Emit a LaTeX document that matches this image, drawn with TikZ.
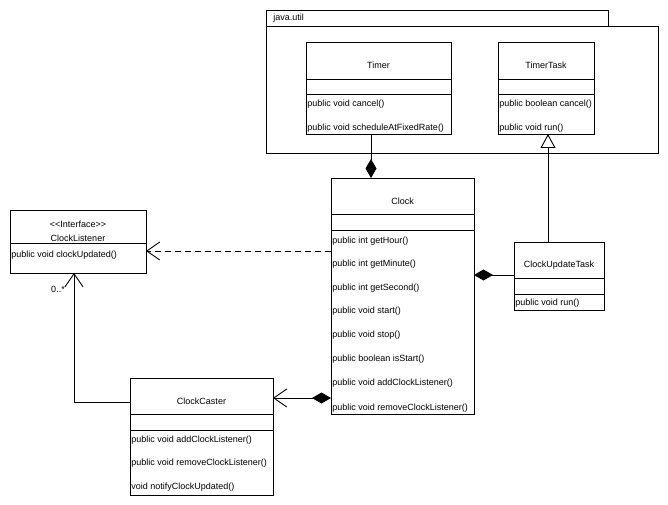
\documentclass[tikz,border=0pt]{standalone}
\usepackage{fontspec}
\setmainfont{Liberation Sans}
\usetikzlibrary{arrows.meta}
\begin{document}
\begin{tikzpicture}[x=1pt,y=-1pt,line width=0.9pt,
  box/.style={draw,anchor=north west,inner sep=0pt,outer sep=0pt},
  title/.style={anchor=center,inner sep=0pt,font=\fontsize{9}{10}\selectfont},
  meth/.style={anchor=west,inner sep=0pt,font=\fontsize{9}{10}\selectfont},
  comp/.style={{Diamond[length=19pt,width=11pt]}-},
  openarr/.style={-{Straight Barb[length=13pt,width=18pt,line width=0.9pt]}},
  compopen/.style={{Diamond[length=19pt,width=11pt]}-{Straight Barb[length=13pt,width=18pt,line width=0.9pt]}},
  gen/.style={-{Triangle[open,length=14pt,width=15pt,fill=white]}}]
\useasboundingbox (0,0) rectangle (668,505);
% package java.util
\node[box,minimum width=342pt,minimum height=16pt] (tab) at (266,10) {};
\node[box,minimum width=392pt,minimum height=127pt] (pkg) at (266,26) {};
\node[meth] (pkgname) at (273,18) {java.util};
% Timer
\node[box,minimum width=145pt,minimum height=92pt] (timer) at (306,42) {};
\draw (306,79) -- (451,79) (306,94) -- (451,94);
\node[title] (timert) at (378.5,65) {Timer};
\node[meth] (timerm1) at (307,104) {public void cancel()};
\node[meth] (timerm2) at (307,128) {public void scheduleAtFixedRate()};
% TimerTask
\node[box,minimum width=96pt,minimum height=92pt] (tt) at (498,42) {};
\draw (498,79) -- (594,79) (498,94) -- (594,94);
\node[title] (ttt) at (546,65) {TimerTask};
\node[meth] (ttm1) at (499,104) {public boolean cancel()};
\node[meth] (ttm2) at (499,128) {public void run()};
% Clock
\node[box,minimum width=143pt,minimum height=236pt] (clock) at (331,178) {};
\draw (331,214) -- (474,214) (331,230) -- (474,230);
\node[title] (clockt) at (402.5,201) {Clock};
\node[meth] (cm1) at (332,241) {public int getHour()};
\node[meth] (cm2) at (332,264) {public int getMinute()};
\node[meth] (cm3) at (332,288) {public int getSecond()};
\node[meth] (cm4) at (332,311) {public void start()};
\node[meth] (cm5) at (332,335) {public void stop()};
\node[meth] (cm6) at (332,359) {public boolean isStart()};
\node[meth] (cm7) at (332,383) {public void addClockListener()};
\node[meth] (cm8) at (332,408) {public void removeClockListener()};
% ClockUpdateTask
\node[box,minimum width=90pt,minimum height=68pt] (cut) at (514,242) {};
\draw (514,278) -- (604,278) (514,294) -- (604,294);
\node[title] (cutt) at (559,265) {ClockUpdateTask};
\node[meth] (cutm1) at (515,303) {public void run()};
% ClockListener
\node[box,minimum width=136pt,minimum height=63pt] (cl) at (10,210) {};
\draw (10,243) -- (146,243);
\node[title] (clt1) at (78,224) {<{}<Interface>{}>};
\node[title] (clt2) at (78,238) {ClockListener};
\node[meth] (clm1) at (11,255) {public void clockUpdated()};
% ClockCaster
\node[box,minimum width=143pt,minimum height=117pt] (cc) at (130,378) {};
\draw (130,414) -- (273,414) (130,430) -- (273,430);
\node[title] (cct) at (201.5,401) {ClockCaster};
\node[meth] (ccm1) at (131,440) {public void addClockListener()};
\node[meth] (ccm2) at (131,463) {public void removeClockListener()};
\node[meth] (ccm3) at (131,487) {void notifyClockUpdated()};
% connectors
\draw[comp] ([xshift=40pt]clock.north west) -- ([xshift=65pt]timer.south west);
\draw[gen] ([xshift=34pt]cut.north west) -- ([xshift=50pt]tt.south west);
\draw[comp] ([yshift=-97pt]clock.north east) -- ([yshift=-33pt]cut.north west);
\draw[dashed,dash pattern=on 6pt off 4pt,openarr] ([yshift=-73pt]clock.north west) -- ([yshift=-41pt]cl.north east);
\draw[openarr] ([yshift=-24pt]cc.north west) -| ([xshift=64pt]cl.south west);
\draw[compopen] ([yshift=-220pt]clock.north west) -- ([yshift=-20pt]cc.north east);
\node[title] (mult) at (58,289) {0..*};
\end{tikzpicture}
\end{document}
